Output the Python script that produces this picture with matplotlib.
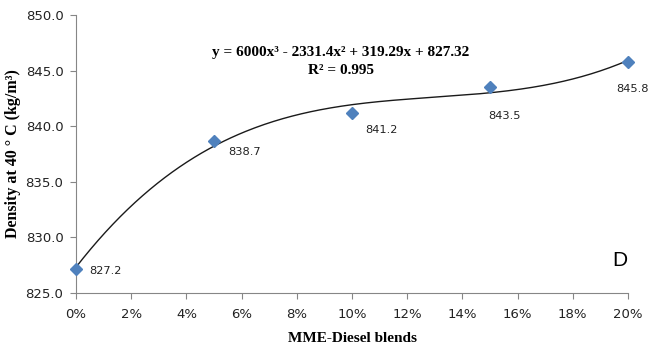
import numpy as np
import matplotlib
matplotlib.use("Agg")
import matplotlib.pyplot as plt
from matplotlib.ticker import FuncFormatter

# MME blend fraction and measured density
blend = [0.00, 0.05, 0.10, 0.15, 0.20]
density = [827.2, 838.7, 841.2, 843.5, 845.8]
# cubic trend line coefficients (highest power first)
trend_coef = [6000, -2331.4, 319.29, 827.32]
r_squared = 0.995
x_ticks = [0.00, 0.02, 0.04, 0.06, 0.08, 0.10, 0.12, 0.14, 0.16, 0.18, 0.20]
y_ticks = [825.0, 830.0, 835.0, 840.0, 845.0, 850.0]

# data-label offsets from each marker, in points
label_offsets = [(9.5, -1.5), (10, -8), (9.5, -12.5), (-1.5, -21), (-8.5, -19.5)]

W, H = 651, 346
fig = plt.figure(figsize=(W / 100, H / 100), dpi=100)
left, right, top, bottom = 76, 628, 15, 293
ax = fig.add_axes([left / W, 1 - bottom / H, (right - left) / W, (bottom - top) / H])

xs = np.linspace(0, 0.2, 300)
ax.plot(xs, np.polyval(trend_coef, xs), color="#1a1a1a", lw=1.0, zorder=2,
        clip_on=False)
ax.plot(blend, density, ls="none", marker="D", ms=6, color="#4F81BD", zorder=3,
        clip_on=False)

for (x, y), (dx, dy) in zip(zip(blend, density), label_offsets):
    ax.annotate(f"{y:.1f}", (x, y), xytext=(dx, dy), textcoords="offset points",
                ha="left", va="center", fontsize=8.2, family="DejaVu Sans",
                color="#222222")

ax.set_xlim(0, 0.2)
ax.set_ylim(825, 850)
ax.set_xticks(x_ticks)
ax.set_yticks(y_ticks)
ax.xaxis.set_major_formatter(FuncFormatter(lambda v, p: f"{v * 100:.0f}%"))
ax.yaxis.set_major_formatter(FuncFormatter(lambda v, p: f"{v:.1f}"))
ax.tick_params(axis="both", direction="out", length=4.5, width=0.8, color="#868686",
               labelsize=9.5, labelcolor="#222222")
for lbl in ax.get_xticklabels() + ax.get_yticklabels():
    lbl.set_family("DejaVu Sans")
ax.tick_params(axis="x", pad=6)
ax.tick_params(axis="y", pad=4.5)

for side in ("top", "right"):
    ax.spines[side].set_visible(False)
for side in ("left", "bottom"):
    ax.spines[side].set_color("#868686")
    ax.spines[side].set_linewidth(0.8)

ax.set_xlabel("MME-Diesel blends", family="Liberation Serif", fontweight="bold",
              fontsize=11, va="center")
ax.xaxis.set_label_coords(0.5, -(339 - bottom) / (bottom - top))
ax.set_ylabel("Density at 40 ° C (kg/m³)", family="Liberation Serif",
              fontweight="bold", fontsize=11.5, va="center")
ax.yaxis.set_label_coords(-(left - 13) / (right - left), 0.5)

eq_x = (341 - left) / (right - left)
ax.text(eq_x, 1 - (52 - top) / (bottom - top),
        "y = 6000x³ - 2331.4x² + 319.29x + 827.32",
        transform=ax.transAxes, ha="center", va="center", family="Liberation Serif",
        fontweight="bold", fontsize=11)
ax.text(eq_x, 1 - (71 - top) / (bottom - top), f"R² = {r_squared}",
        transform=ax.transAxes, ha="center", va="center", family="Liberation Serif",
        fontweight="bold", fontsize=11)
ax.text((620 - left) / (right - left), 1 - (261 - top) / (bottom - top), "D",
        transform=ax.transAxes, ha="center", va="center",
        family="Liberation Sans", fontsize=15)

fig.savefig("out.png", dpi=100)
